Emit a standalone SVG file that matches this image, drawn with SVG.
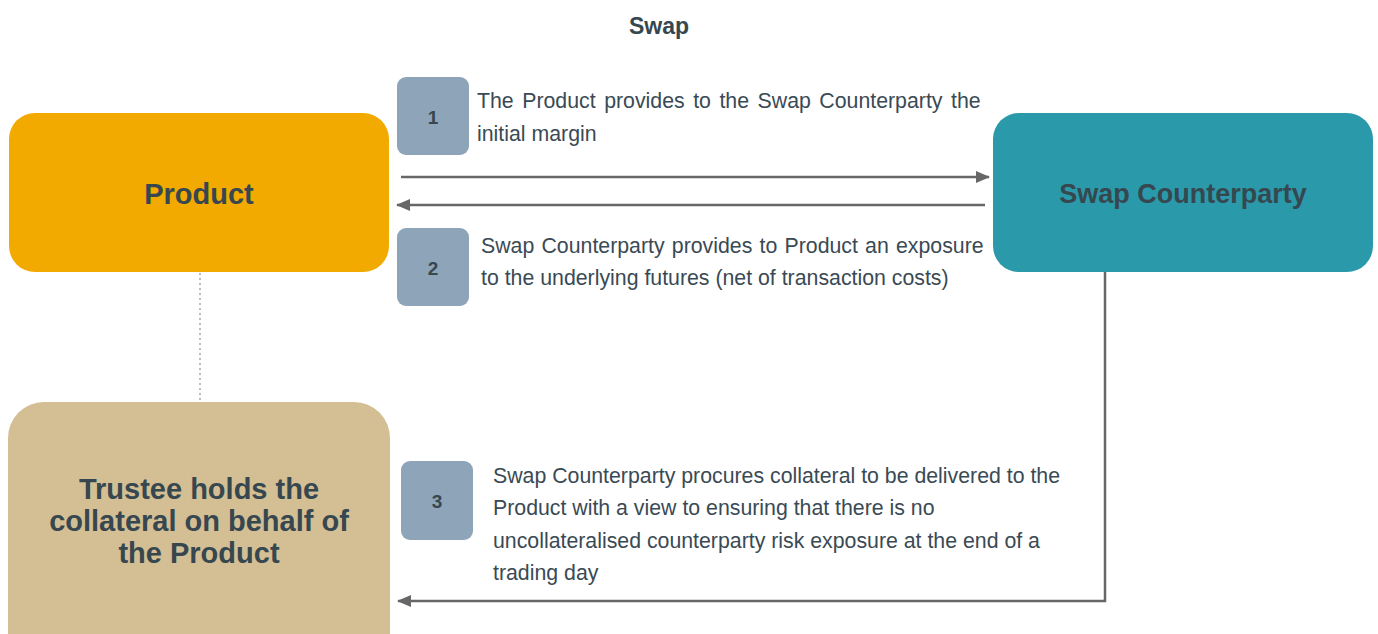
<svg xmlns="http://www.w3.org/2000/svg" width="1378" height="634" viewBox="0 0 1378 634">
<style>
.node-title{font-family:"Liberation Sans",Arial,sans-serif;font-weight:bold;fill:#36474F;text-anchor:middle}
.body{font-family:"Liberation Sans",Arial,sans-serif;font-size:21.3px;fill:#3A4A54}
.badge{fill:#8EA4B8}
.num{font-family:"Liberation Sans",Arial,sans-serif;font-weight:bold;font-size:19px;fill:#36474F;text-anchor:middle}
.conn{stroke:#676767;stroke-width:2.5;fill:none}
</style>
<defs>
<marker id="ah" viewBox="0 0 14 12" refX="13" refY="6" markerWidth="14" markerHeight="12" markerUnits="userSpaceOnUse" orient="auto">
<path d="M0,0 L14,6 L0,12 Z" fill="#676767"/>
</marker>
</defs>
<rect width="1378" height="634" fill="#FFFFFF"/>
<text x="659" y="34" class="node-title" font-size="23">Swap</text>

<g id="connectors">
<line x1="200" y1="273" x2="200" y2="402" stroke="#BDBDBD" stroke-width="2" stroke-dasharray="2,3"/>
<line class="conn" x1="401" y1="177" x2="989" y2="177" marker-end="url(#ah)"/>
<line class="conn" x1="985" y1="205" x2="397" y2="205" marker-end="url(#ah)"/>
<polyline class="conn" points="1105,272 1105,601 398,601" marker-end="url(#ah)"/>
</g>

<g id="product">
<rect x="9" y="113" width="380" height="159" rx="26" fill="#F2AA00"/>
<text x="199" y="204" class="node-title" font-size="29">Product</text>
</g>

<g id="swap-counterparty">
<rect x="993" y="113" width="380" height="159" rx="26" fill="#2A9AAA"/>
<text x="1183" y="203" class="node-title" font-size="27">Swap Counterparty</text>
</g>

<g id="trustee">
<rect x="8" y="402" width="382" height="270" rx="36" fill="#D4BE93"/>
<text class="node-title" font-size="29"><tspan x="199" y="499">Trustee holds the</tspan><tspan x="199" y="531">collateral on behalf of</tspan><tspan x="199" y="563">the Product</tspan></text>
</g>

<g id="step1">
<rect class="badge" x="397" y="77" width="72" height="78" rx="9"/>
<text x="433" y="124" class="num">1</text>
<text class="body"><tspan x="477" y="108" word-spacing="2.6">The Product provides to the Swap Counterparty the</tspan><tspan x="477" y="141">initial margin</tspan></text>
</g>

<g id="step2">
<rect class="badge" x="397" y="228" width="72" height="78" rx="9"/>
<text x="433" y="275" class="num">2</text>
<text class="body"><tspan x="481" y="253" word-spacing="1.3">Swap Counterparty provides to Product an exposure</tspan><tspan x="481" y="285">to the underlying futures (net of transaction costs)</tspan></text>
</g>

<g id="step3">
<rect class="badge" x="401" y="461" width="72" height="79" rx="9"/>
<text x="437" y="508" class="num">3</text>
<text class="body"><tspan x="493" y="483">Swap Counterparty procures collateral to be delivered to the</tspan><tspan x="493" y="515">Product with a view to ensuring that there is no</tspan><tspan x="493" y="548">uncollateralised counterparty risk exposure at the end of a</tspan><tspan x="493" y="580">trading day</tspan></text>
</g>
</svg>
